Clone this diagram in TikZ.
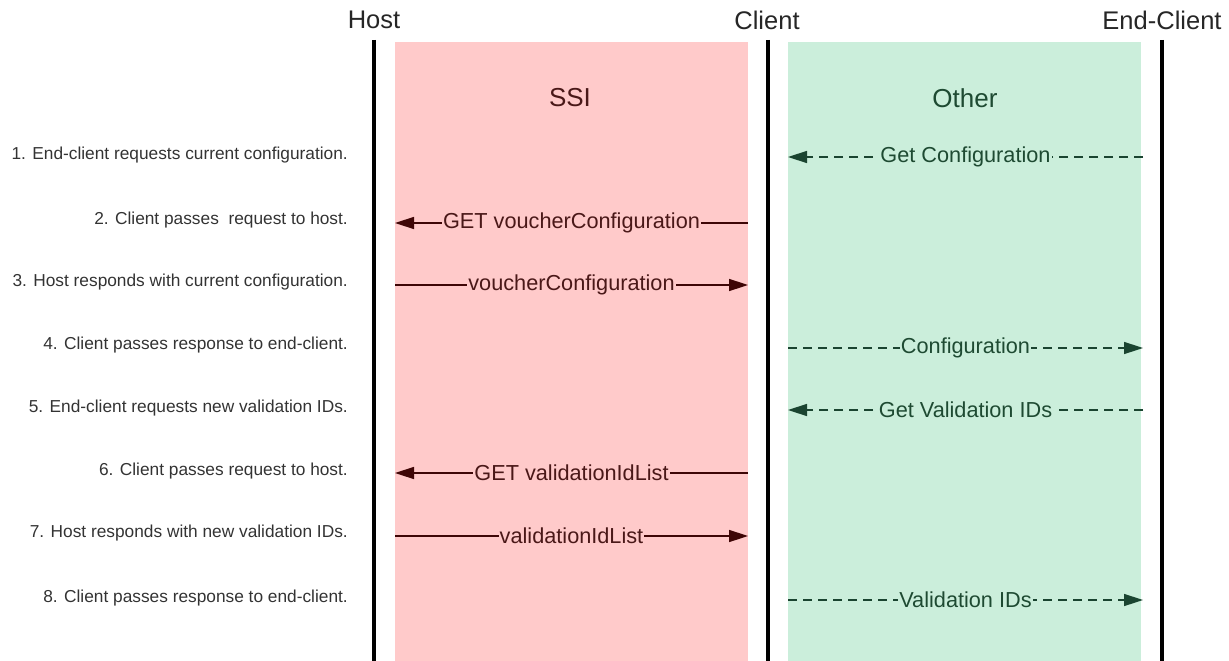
\documentclass[tikz,border=0pt]{standalone}
\usepackage{fontspec}
\setmainfont{Liberation Sans}
\usetikzlibrary{arrows.meta}
\definecolor{ssifill}{HTML}{FFCACA}
\definecolor{otherfill}{HTML}{CBEEDB}
\definecolor{ssiline}{HTML}{3E0606}
\definecolor{ssitext}{HTML}{4A1818}
\definecolor{otherline}{HTML}{1A4430}
\definecolor{othertext}{HTML}{1E4A32}
\definecolor{steptext}{HTML}{333333}
\begin{document}
\begin{tikzpicture}[x=1pt,y=-1pt,
  lifeline/.style={line width=4pt,black},
  head/.style={font=\fontsize{25.5}{30}\selectfont,text=black!85,inner sep=0pt},
  zonetitle/.style={font=\fontsize{26}{30}\selectfont,inner sep=0pt},
  steplabel/.style={anchor=east,font=\fontsize{17.3}{20}\selectfont,text=steptext,inner sep=0pt},
  ssiarrow/.style={draw=ssiline,line width=1.5pt,-{Triangle[length=19pt,width=12pt]}},
  otherarrow/.style={draw=otherline,line width=1.5pt,dash pattern=on 9pt off 6pt,-{Triangle[length=19pt,width=12pt]}},
  ssilabel/.style={fill=ssifill,text=ssitext,font=\fontsize{21.7}{25}\selectfont,inner xsep=1pt,inner ysep=2pt},
  otherlabel/.style={fill=otherfill,text=othertext,font=\fontsize{21.7}{25}\selectfont,inner xsep=1pt,inner ysep=2pt}]
\useasboundingbox (0,0) rectangle (1229,661);

% protocol zones
\fill[ssifill] (395,42) rectangle (748,661);
\fill[otherfill] (788,42) rectangle (1141,661);
\node[zonetitle,text=ssitext] (ssi) at (570,98) {SSI};
\node[zonetitle,text=othertext] (other) at (965,98) {Other};

% lifelines and their titles
\node[head] (host) at (374,20) {Host};
\node[head] (client) at (767,20) {Client};
\node[head] (endclient) at (1162,20) {End-Client};
\coordinate (hostTop) at (374,40);   \coordinate (hostBot) at (374,661);
\coordinate (clientTop) at (768,40); \coordinate (clientBot) at (768,661);
\coordinate (endTop) at (1162,40);   \coordinate (endBot) at (1162,661);
\draw[lifeline] (hostTop) -- (hostBot);
\draw[lifeline] (clientTop) -- (clientBot);
\draw[lifeline] (endTop) -- (endBot);

% message end points for each step
\foreach \i/\y in {1/157,2/223,3/285,4/348,5/410,6/473,7/536,8/600}{
  \coordinate (sL\i) at (395,\y);
  \coordinate (sR\i) at (748,\y);
  \coordinate (oL\i) at (788,\y);
  \coordinate (oR\i) at (1143,\y);
}

% step descriptions
\node[steplabel] (t1) at (348,155) {1. End-client requests current configuration.};
\node[steplabel] (t2) at (348,220) {2. Client passes\ \ request to host.};
\node[steplabel] (t3) at (348,282) {3. Host responds with current configuration.};
\node[steplabel] (t4) at (348,345) {4. Client passes response to end-client.};
\node[steplabel] (t5) at (348,408) {5. End-client requests new validation IDs.};
\node[steplabel] (t6) at (348,471) {6. Client passes request to host.};
\node[steplabel] (t7) at (348,533) {7. Host responds with new validation IDs.};
\node[steplabel] (t8) at (348,598) {8. Client passes response to end-client.};

% messages
\draw[otherarrow] (oR1) -- node[otherlabel]{Get Configuration} (oL1);
\draw[ssiarrow] (sR2) -- node[ssilabel]{GET voucherConfiguration} (sL2);
\draw[ssiarrow] (sL3) -- node[ssilabel]{voucherConfiguration} (sR3);
\draw[otherarrow] (oL4) -- node[otherlabel]{Configuration} (oR4);
\draw[otherarrow] (oR5) -- node[otherlabel]{Get Validation IDs} (oL5);
\draw[ssiarrow] (sR6) -- node[ssilabel]{GET validationIdList} (sL6);
\draw[ssiarrow] (sL7) -- node[ssilabel]{validationIdList} (sR7);
\draw[otherarrow] (oL8) -- node[otherlabel]{Validation IDs} (oR8);
\end{tikzpicture}
\end{document}
